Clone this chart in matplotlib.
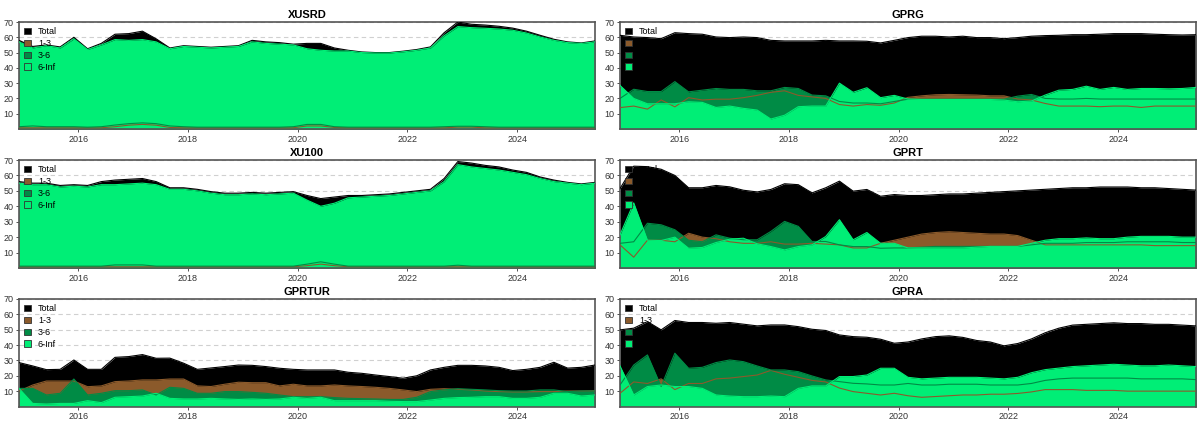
import numpy as np
import matplotlib.pyplot as plt
from matplotlib.patches import Patch

plt.rcParams['font.family'] = ['Liberation Sans Narrow', 'Liberation Sans', 'DejaVu Sans']

# quarterly points, Dec 2014 .. May 2025 (decimal years)
years = np.round(2014.92 + 0.25 * np.arange(43), 2)
series_names = ["Total", "1-3", "3-6", "6-Inf"]

xusrd_total = [58, 54, 55, 53.7, 60, 52.5, 56, 62, 62.4, 64, 59, 53, 54.5, 54, 53.5, 54, 54.5, 58, 57, 56.5,
               55.5, 56, 56, 53, 51.5, 50.4, 50, 50, 50.9, 52, 53.7, 63, 70, 68.5, 68, 67.2, 66, 64, 61.3, 58.7,
               57, 56.3, 57.6]
xusrd_13 = [0.8, 0.8, 0.8, 0.8, 0.8, 0.8, 0.8, 1.5, 2.5, 3, 2.5, 1, 0.8, 0.8, 0.8, 0.8, 0.8, 0.8, 0.8, 0.8,
            0.8, 2, 2, 1, 0.8, 0.8, 0.8, 0.8, 0.8, 0.8, 0.8, 0.8, 1.2, 1.2, 0.8, 0.8, 0.8, 0.8, 0.8, 0.8,
            0.8, 0.8, 0.8]
xusrd_36 = [1.5, 2, 1.5, 1.5, 1.5, 1.2, 1.5, 2.6, 3.5, 4, 3.5, 2, 1.5, 1.2, 1.2, 1.2, 1.2, 1.2, 1.2, 1.2,
            1.5, 3, 3, 1.5, 1.2, 1.2, 1.2, 1.2, 1.2, 1.2, 1.2, 1.5, 1.8, 1.8, 1.5, 1.2, 1.2, 1.2, 1.2, 1.2,
            1.2, 1.2, 1.2]
xusrd_6inf = [57, 53, 54.5, 53, 59, 52, 55, 58.5, 58, 58.5, 57, 52.5, 54, 53.5, 53, 53.5, 54, 57, 56, 55.5,
              55, 52.5, 51.5, 51, 51, 50, 49.7, 49.7, 50.5, 51.5, 53, 61, 67, 66.3, 65.9, 65.4, 64.6, 62.8, 60.2, 58,
              56.5, 56, 57]

xu100_total = [56, 55, 55, 53.5, 54, 53.5, 56, 57, 57.5, 58, 56, 52, 52, 51, 49.5, 48.5, 48.5, 49, 48.5, 49,
               49.5, 47, 45, 46, 47, 47, 47.5, 48, 49, 50, 51, 58, 69, 68, 66.5, 65.5, 63.5, 62, 59, 57,
               55.5, 54.5, 55.5]
xu100_13 = [0.8, 0.8, 0.8, 0.8, 0.8, 0.8, 0.8, 0.8, 0.8, 0.8, 0.8, 0.8, 0.8, 0.8, 0.8, 0.8, 0.8, 0.8, 0.8, 0.8,
            0.8, 1.5, 2.5, 1.5, 0.8, 0.8, 0.8, 0.8, 0.8, 0.8, 0.8, 0.8, 0.8, 0.8, 0.8, 0.8, 0.8, 0.8, 0.8, 0.8,
            0.8, 0.8, 0.8]
xu100_36 = [1.2, 1.2, 1.2, 1.2, 1.2, 1.2, 1.2, 2, 2, 2, 1.2, 1.2, 1.2, 1.2, 1.2, 1.2, 1.2, 1.2, 1.2, 1.2,
            1.2, 2.5, 4, 2.5, 1.2, 1.2, 1.2, 1.2, 1.2, 1.2, 1.2, 1.2, 1.8, 1.2, 1.2, 1.2, 1.2, 1.2, 1.2, 1.2,
            1.2, 1.2, 1.2]
xu100_6inf = [55, 54, 54, 52.5, 53, 52.5, 54, 54, 54.5, 55, 54, 51, 51, 50, 48.5, 47.5, 47.5, 48, 47.5, 48,
              48.5, 44, 40, 42, 45.5, 46, 46.5, 47, 48, 49, 50, 56, 67, 65.5, 64.5, 63.5, 62, 60.5, 58, 56,
              55, 54, 55]

gprtur_total = [28.6, 26.4, 24, 24.2, 30.3, 24.2, 24.2, 32, 32.5, 33.8, 31.4, 31.5, 28.2, 24.2, 25.1, 26, 27, 26.8, 26, 24.9,
                24.2, 23.8, 23.8, 23.8, 22.3, 21.6, 20.5, 19.5, 18.4, 20, 23.8, 25.5, 26.8, 26.8, 26.4, 25.5, 23.4, 24.2, 25.5, 28.8,
                25, 25.5, 27]
gprtur_13 = [10, 14, 16.6, 16.6, 16.6, 12.9, 13.4, 16.2, 16.6, 17.3, 17.3, 17.9, 17.9, 13.4, 13, 14.5, 15.8, 15.5, 15.5, 13.4,
             14.5, 13.4, 13.4, 14, 13.4, 13, 12.5, 11.8, 10.8, 9.7, 11.2, 11.6, 11.2, 10.8, 10.1, 9.7, 9.5, 9.5, 9.7, 9.7,
             10.1, 10.1, 10.3]
gprtur_36 = [11.8, 11.8, 7.5, 8.6, 17.9, 7.5, 8.6, 10.3, 10.3, 10.8, 7.5, 12.5, 11.8, 8.6, 8.6, 9.7, 9.7, 9.2, 8.6, 7.5,
             6.4, 6.4, 6.4, 5.8, 5.3, 5.1, 4.9, 4.6, 4.6, 6, 9.7, 10.8, 11.6, 11.2, 10.8, 10.3, 10.1, 10.1, 10.8, 10.8,
             9.7, 10.1, 10.1]
gprtur_6inf = [11.8, 2, 1.6, 2, 2, 3.8, 2.5, 6, 6.4, 6.8, 8.6, 5.3, 4.9, 4.9, 5.3, 4.9, 4.6, 4.9, 4.6, 4.9,
               6, 5.3, 6, 3.8, 3.8, 3.8, 3.8, 3.4, 3.2, 3.2, 4.2, 5.3, 5.8, 6, 6.4, 6.4, 5.3, 5.3, 6, 8.6,
               8.6, 6.8, 7.5]

gprg_total = [61.3, 60.2, 59.8, 59.1, 63, 62.4, 62, 60.2, 59.8, 60.2, 59.8, 58, 57.6, 57.6, 57.6, 58, 57.6, 57.6, 57.4, 56.3,
              58, 59.8, 60.7, 60.7, 60.2, 60.7, 59.8, 59.8, 59.1, 59.8, 60.7, 61.1, 61.3, 61.7, 61.7, 62, 62.4, 62.4, 62.4, 62,
              61.7, 61.5, 61.7]
gprg_13 = [14, 15, 13, 19, 14.5, 20.5, 19, 19.5, 19.5, 20.5, 22, 24, 25, 22, 21, 20, 16, 15, 16, 15.5,
           17, 20.7, 21.7, 22.4, 22.6, 22.4, 22.2, 21.7, 21.7, 19.6, 19, 16.7, 15, 15, 15, 14.6, 15, 15, 14.1, 15,
           15, 15, 15]
gprg_36 = [20, 26, 24.5, 24.5, 31, 24.3, 25.4, 26.5, 25.9, 25.9, 25, 25, 27.2, 26.5, 22.2, 21.7, 18, 17, 17, 16.5,
           18, 19.5, 19.5, 19.5, 19.5, 19.5, 19.5, 19.5, 19.5, 21.5, 22.6, 20, 19.6, 19.6, 20, 19.6, 19.6, 19.6, 19.6, 19.6,
           19.6, 19.6, 19.6]
gprg_6inf = [28.5, 20, 16.5, 16.5, 16.5, 17.8, 17.4, 14.1, 15, 13.5, 12.4, 6.5, 9, 14.6, 15, 15, 30, 24, 27, 20.5,
             22, 19.6, 19.3, 19.3, 19.3, 19.3, 19.3, 19.3, 18.9, 17.8, 18.3, 22.2, 25.4, 25.9, 28, 25.9, 27.2, 25.9, 26.5, 26.5,
             26.3, 26.5, 27.2]

gprt_total = [51.5, 66, 65.7, 64, 60, 52, 52, 53.5, 52.6, 50.4, 49.3, 50.9, 54.6, 54, 48.7, 52, 56.3, 49.8, 50.9, 46.5,
              47.6, 47, 47, 47.5, 48, 48, 48.5, 49, 49.5, 50, 50.5, 51, 51.5, 52, 52, 52.5, 52.5, 52.5, 52, 52,
              51.5, 51, 50.5]
gprt_13 = [15, 7, 18, 18, 17, 22.5, 20, 19, 17, 16, 16, 17, 15.5, 15.5, 16, 15.5, 15, 13, 13, 16,
           18, 20, 22, 23, 23.5, 23, 22.5, 22, 22, 21, 18, 15, 15, 15, 15, 15, 15, 15, 15, 14.5,
           14.5, 14.5, 14.5]
gprt_36 = [16, 17, 29, 28, 24.8, 18, 17, 21.5, 19.3, 18.3, 18.3, 23.7, 30.2, 27, 17.2, 17.2, 15, 13.9, 13.9, 12.8,
           13, 13, 13.5, 14, 14, 14, 14, 14, 14, 14, 15, 16, 16, 16, 16.5, 16.5, 16.5, 17, 17, 17,
           17, 16.5, 16.5]
gprt_6inf = [21.5, 42.2, 18, 17.8, 20, 12.8, 13.3, 16.5, 18.7, 19.3, 15.7, 13.9, 11.7, 13.9, 15, 20.4, 31.3, 18.3, 23, 16,
             16, 13, 13, 13, 13, 13, 13.5, 14, 14, 14, 16, 18, 19, 19, 19.5, 19, 19, 20, 20.5, 20.5,
             20.5, 20, 20]

gpra_total = [49.9, 51, 55.3, 49.9, 56, 54.7, 54.7, 54.2, 54.7, 53.6, 52.5, 53.1, 53.1, 52, 50.3, 49.5, 46.6, 45.5, 45.1, 43.8,
              41.2, 42, 44, 45.5, 46, 45, 43, 42, 39.5, 41, 44, 48, 51, 53, 53.5, 54, 54.5, 54, 54, 53.5,
              53.5, 53, 52.5]
gpra_13 = [8.6, 16, 15, 18, 11, 15, 15, 18, 18.5, 19.5, 20.5, 23.5, 21, 19, 17, 16, 12, 9.7, 8.6, 7.5,
           8.6, 7, 6, 6.5, 7, 7.5, 7.5, 8, 8, 8.5, 9.5, 11, 11, 11, 10.5, 10.5, 10.5, 10, 10, 10,
           10, 10, 10]
gpra_36 = [14, 27, 33.6, 13, 34.7, 24.9, 25.5, 28.6, 30.3, 29.2, 26.4, 23.8, 23.8, 22.7, 19.9, 17.3, 16.2, 15.1, 14.7, 14,
           14, 15, 14, 14, 14.5, 14.5, 14.5, 14, 14, 14, 15, 17, 18, 18.5, 18.5, 18.5, 18.5, 18.5, 18, 18,
           18, 18, 17.5]
gpra_6inf = [26.4, 7.5, 13, 14, 13, 13, 11.8, 7.5, 6.8, 6.4, 6.4, 6.8, 6.4, 11.8, 13.4, 13.4, 19.5, 19.5, 20.5, 24.9,
             24.9, 19, 18, 18.5, 19, 19, 19, 18.5, 18, 19, 22, 24, 25, 26, 26.5, 27, 27.5, 27, 26.5, 26.5,
             27, 26.5, 26]

colors = ["#000000", "#8B5A2B", "#008B45", "#00EE76"]

panels = [
    ("XUSRD", [xusrd_total, xusrd_13, xusrd_36, xusrd_6inf]),
    ("GPRG", [gprg_total, gprg_13, gprg_36, gprg_6inf]),
    ("XU100", [xu100_total, xu100_13, xu100_36, xu100_6inf]),
    ("GPRT", [gprt_total, gprt_13, gprt_36, gprt_6inf]),
    ("GPRTUR", [gprtur_total, gprtur_13, gprtur_36, gprtur_6inf]),
    ("GPRA", [gpra_total, gpra_13, gpra_36, gpra_6inf]),
]

fig = plt.figure(figsize=(12, 4.22), dpi=100)
W, H = 1200, 422
lefts = [19, 620]
rows = [(22, 129), (160, 268), (299, 406.5)]   # pixel top / bottom of each row

for i, (title, data) in enumerate(panels):
    r, c = divmod(i, 2)
    top, bot = rows[r]
    ax = fig.add_axes([lefts[c] / W, (H - bot) / H, 576 / W, (bot - top) / H])

    # overlapping areas, each from zero
    for vals, col in zip(data, colors):
        ax.fill_between(years, 0, vals, color=col, lw=0, zorder=2)
    # outlines on top of every area
    for vals, col in zip(data, colors):
        ax.plot(years, vals, color=col, lw=0.8, zorder=3)

    ax.set_xlim(years[0], years[-1])
    ax.set_ylim(0, 70)
    ax.set_yticks(range(10, 71, 10))
    ax.set_xticks([2016, 2018, 2020, 2022, 2024])
    ax.set_xticklabels(["2016", "2018", "2020", "2022", "2024"])
    ax.tick_params(labelsize=6.5, colors='#333333', length=2.5, width=0.6, pad=1.5)
    ax.yaxis.grid(True, linestyle=(0, (4, 3)), color='#d0d0d0', lw=0.8)
    ax.set_axisbelow(True)
    for sp in ax.spines.values():
        sp.set_color('#555555')
        sp.set_linewidth(1.2)
    ax.set_title(title, fontsize=8, fontweight='bold', pad=3)

    handles = [Patch(facecolor=col, edgecolor='#333333', lw=0.6) for col in colors]
    ax.legend(handles, series_names, loc='upper left', frameon=False, fontsize=6.5,
              handlelength=0.7, handleheight=0.7, labelspacing=0.3, handletextpad=0.8,
              borderaxespad=0.2, borderpad=0.4)

fig.savefig("out.png", dpi=100)
